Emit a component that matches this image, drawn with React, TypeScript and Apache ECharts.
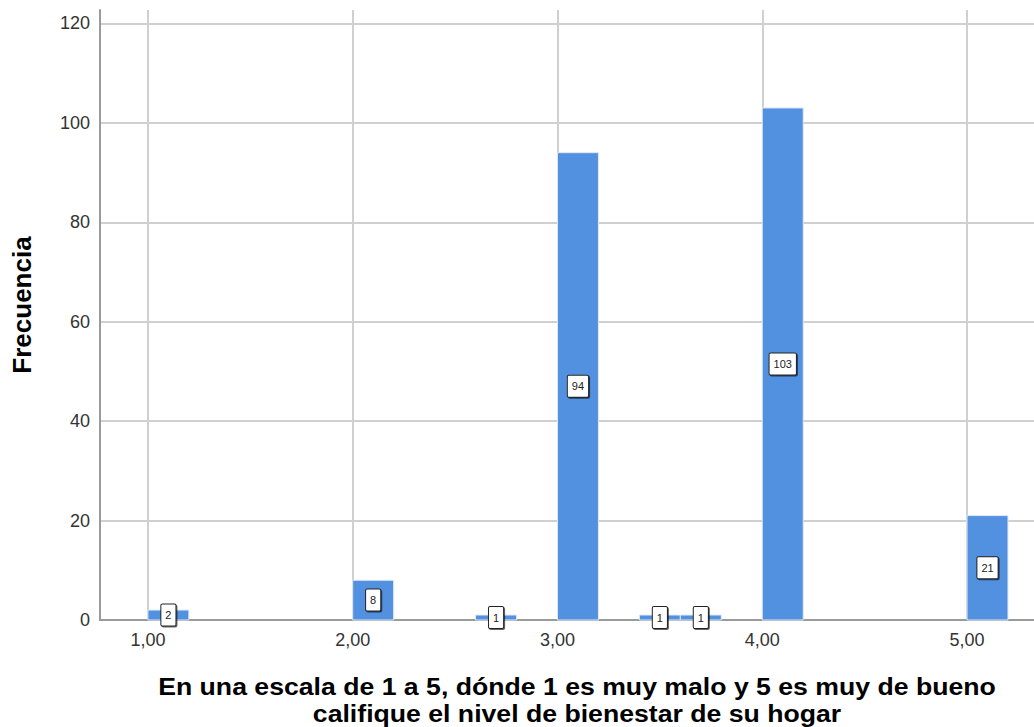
import React, { useEffect, useRef } from "react";
import * as echarts from "echarts";

// Histogram bins (lower edge, upper edge) and frequencies
const binStarts = [1.0, 2.0, 2.6, 3.0, 3.4, 3.6, 4.0, 5.0];
const binEnds = [1.2, 2.2, 2.8, 3.2, 3.6, 3.8, 4.2, 5.2];
const counts = [2, 8, 1, 94, 1, 1, 103, 21];

const xTitleLines = [
  "En una escala de 1 a 5, dónde 1 es muy malo y 5 es muy de bueno",
  "califique el nivel de bienestar de su hogar",
];
const yTitle = "Frecuencia";

const X_MIN = 0.766;
const X_MAX = 5.327;
const Y_MAX = 122.7;
const Y_INTERVAL = 20;

const FONT = '"Liberation Sans", Arial, sans-serif';
const BAR_COLOR = "#5291E0";

export default function App() {
  const ref = useRef<HTMLDivElement>(null);

  useEffect(() => {
    if (!ref.current) return;
    const chart = echarts.init(ref.current, null, { renderer: "svg" });
    const data = binStarts.map((s, i) => [s, binEnds[i], counts[i]]);

    chart.setOption({
      animation: false,
      backgroundColor: "#ffffff",
      grid: { left: 100, right: 0, top: 10, bottom: 107, containLabel: false },
      xAxis: {
        type: "value",
        min: X_MIN,
        max: X_MAX,
        minInterval: 1,
        maxInterval: 1,
        axisLine: { show: true, onZero: false, lineStyle: { color: "#9a9a9a", width: 2 } },
        axisTick: { show: false },
        axisLabel: {
          showMinLabel: false,
          showMaxLabel: false,
          margin: 11,
          fontSize: 18,
          fontFamily: FONT,
          color: "#333",
          formatter: (v: number) => v.toFixed(2).replace(".", ","),
        },
        splitLine: {
          show: true,
          showMinLine: false,
          showMaxLine: false,
          lineStyle: { color: "#d0d0d0", width: 2 },
        },
      },
      yAxis: {
        type: "value",
        min: 0,
        max: Y_MAX,
        interval: Y_INTERVAL,
        axisLine: { show: true, lineStyle: { color: "#9a9a9a", width: 2 } },
        axisTick: { show: false },
        axisLabel: {
          showMaxLabel: false,
          margin: 10,
          fontSize: 18,
          fontFamily: FONT,
          color: "#333",
        },
        splitLine: {
          show: true,
          showMinLine: false,
          showMaxLine: false,
          lineStyle: { color: "#d0d0d0", width: 2 },
        },
      },
      series: [
        {
          type: "custom",
          data,
          encode: { x: [0, 1], y: 2 },
          renderItem: (_params: any, api: any) => {
            const x0 = api.value(0);
            const x1 = api.value(1);
            const v = api.value(2);
            const p0 = api.coord([x0, 0]);
            const p1 = api.coord([x1, v]);
            return {
              type: "rect",
              shape: {
                x: p0[0],
                y: p1[1],
                width: p1[0] - p0[0],
                height: p0[1] - p1[1],
              },
              style: { fill: BAR_COLOR, stroke: "#dfe9f7", lineWidth: 1 },
              textContent: {
                style: {
                  text: String(v),
                  fill: "#222",
                  font: `11px ${FONT}`,
                  backgroundColor: "#ffffff",
                  borderColor: "#222",
                  borderWidth: 1,
                  borderRadius: 1,
                  padding: [5, 4, 5, 4],
                  shadowColor: "rgba(0,0,0,0.6)",
                  shadowOffsetX: 1,
                  shadowOffsetY: 1,
                  shadowBlur: 0,
                },
                z2: 10,
              },
              textConfig: { position: "inside" },
            };
          },
        },
      ],
      graphic: [
        {
          type: "text",
          x: 22,
          y: 305,
          rotation: Math.PI / 2,
          style: {
            text: yTitle,
            font: `bold 26px ${FONT}`,
            fill: "#000",
            align: "center",
            verticalAlign: "middle",
          },
        },
        {
          type: "text",
          x: 577,
          y: 686.5,
          scaleX: 1.11,
          style: {
            text: xTitleLines[0],
            font: `bold 24px ${FONT}`,
            fill: "#000",
            align: "center",
            verticalAlign: "middle",
          },
        },
        {
          type: "text",
          x: 577,
          y: 713.5,
          scaleX: 1.11,
          style: {
            text: xTitleLines[1],
            font: `bold 24px ${FONT}`,
            fill: "#000",
            align: "center",
            verticalAlign: "middle",
          },
        },
      ],
    });

    return () => {
      chart.dispose();
    };
  }, []);

  return (
    <div
      ref={ref}
      style={{ position: "absolute", left: 0, top: 0, width: 1034, height: 727 }}
    />
  );
}
